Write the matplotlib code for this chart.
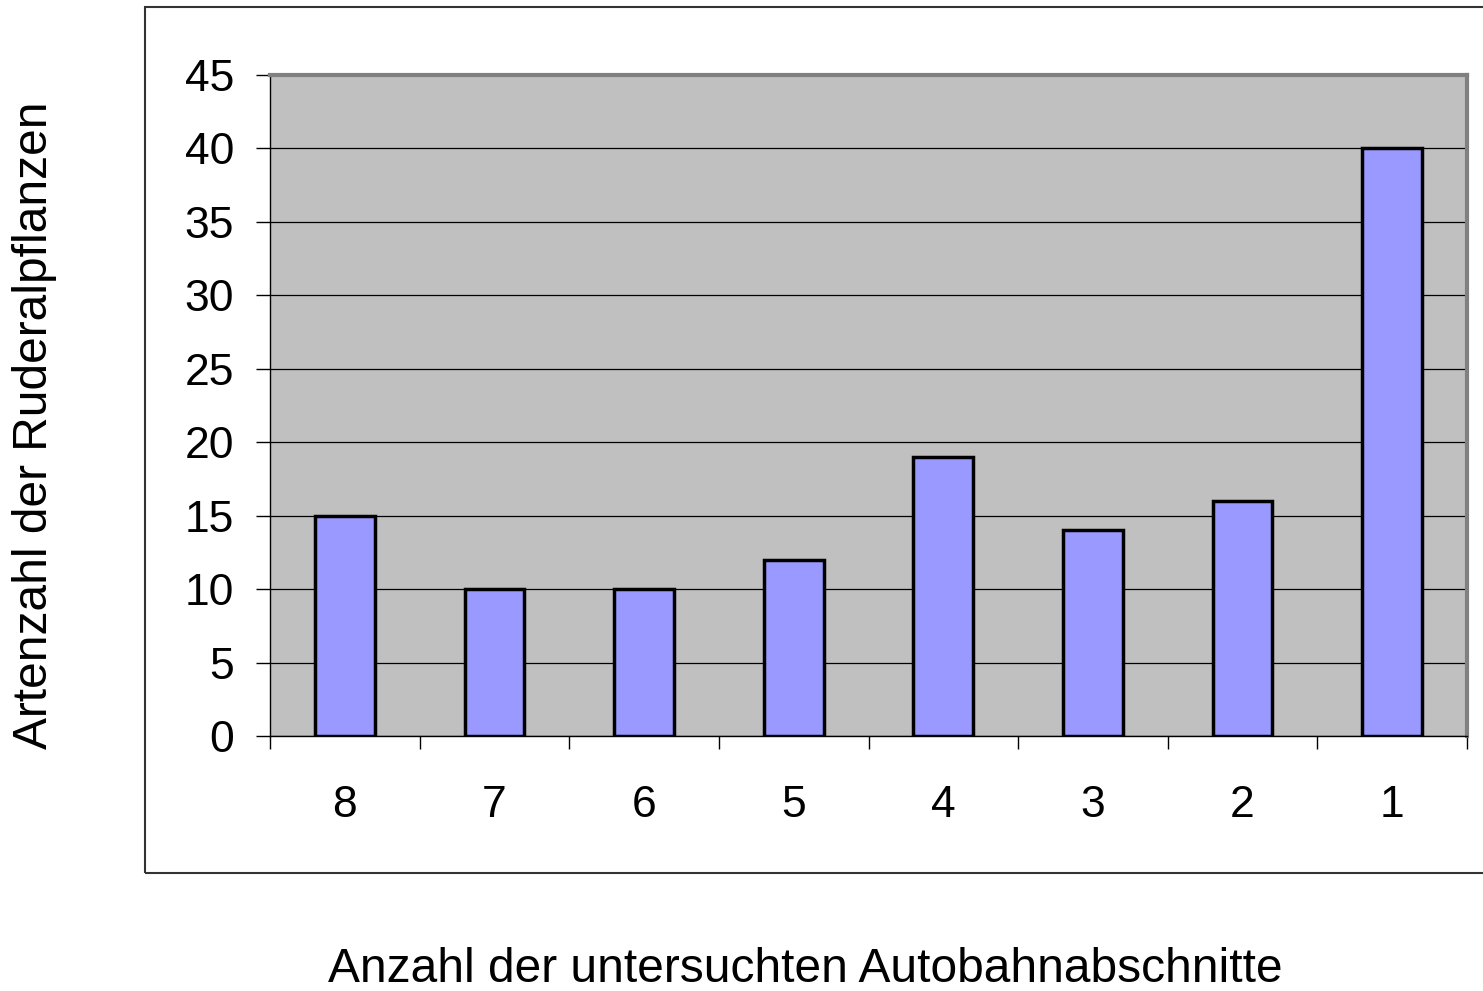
import matplotlib.pyplot as plt
from matplotlib.patches import Rectangle

# Daten
abschnitte = ["8", "7", "6", "5", "4", "3", "2", "1"]
artenzahl = [15, 10, 10, 12, 19, 14, 16, 40]
y_ticks = [0, 5, 10, 15, 20, 25, 30, 35, 40, 45]

W, H = 1483, 991
plt.rcParams['font.family'] = ['Liberation Sans', 'DejaVu Sans']

fig = plt.figure(figsize=(W / 100, H / 100), dpi=100)

# aeusserer Rahmen (rechts abgeschnitten)
fig.patches.append(Rectangle((145 / W, 1 - 873 / H), 1.0, (873 - 7) / H,
                             transform=fig.transFigure, fill=False,
                             edgecolor='#333333', linewidth=1.5))

ax = fig.add_axes([270 / W, 1 - 736 / H, (1467 - 270) / W, (736 - 75) / H])
ax.set_facecolor('#C0C0C0')

x = range(len(abschnitte))
ax.bar(x, artenzahl, width=0.4, color='#9999FF', edgecolor='black',
       linewidth=2.5, zorder=3)

ax.set_xlim(-0.5, len(abschnitte) - 0.5)
ax.set_ylim(0, 45)
ax.set_yticks(y_ticks)
ax.set_yticklabels([str(v) for v in y_ticks], fontsize=32)
ax.yaxis.grid(True, color='black', linewidth=0.9, zorder=1)

# Kategorien-Ticks an den Grenzen
ax.set_xticks([i - 0.5 for i in range(len(abschnitte) + 1)])
ax.set_xticklabels([])
ax.set_xticks(list(x), minor=True)
ax.set_xticklabels(abschnitte, minor=True, fontsize=32)
ax.tick_params(axis='x', which='major', length=9.5, width=1, color='black')
ax.tick_params(axis='x', which='minor', length=0, pad=35)
ax.tick_params(axis='y', length=10, width=1, pad=16)

for side in ['top', 'right']:
    ax.spines[side].set_color('#808080')
    ax.spines[side].set_linewidth(3)
for side in ['left', 'bottom']:
    ax.spines[side].set_color('black')
    ax.spines[side].set_linewidth(1)

fig.text(35 / W, 1 - 425 / H, "Artenzahl der Ruderalpflanzen", rotation=90,
         ha='center', va='center', fontsize=34.5)
fig.text(805 / W, 1 - 970 / H, "Anzahl der untersuchten Autobahnabschnitte",
         ha='center', va='center', fontsize=34.5)

fig.savefig('out.png', dpi=100)
